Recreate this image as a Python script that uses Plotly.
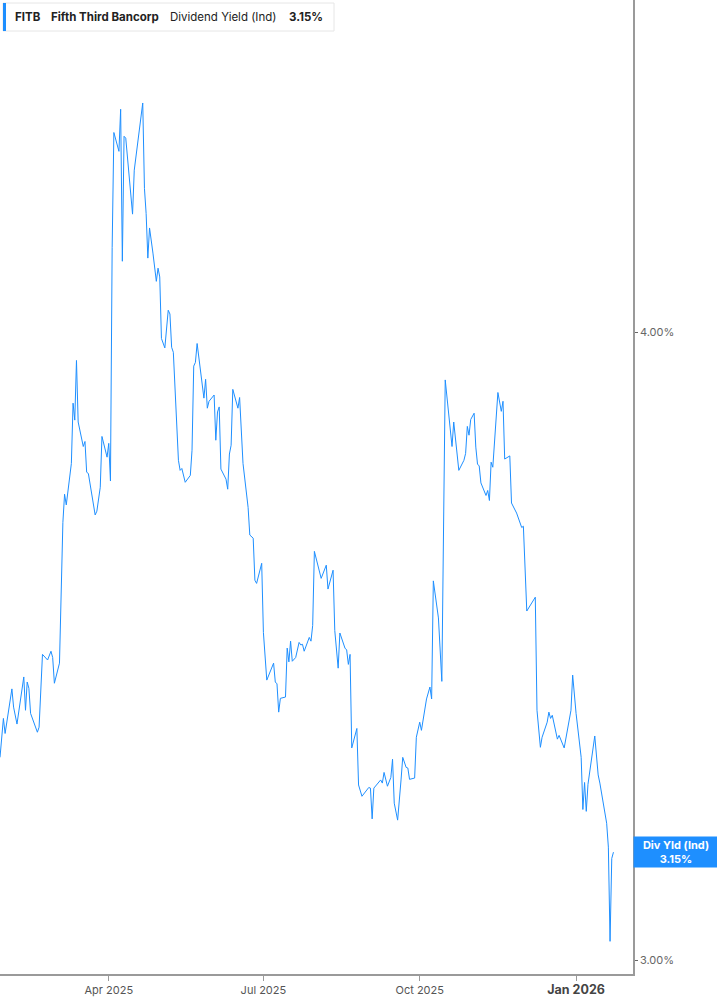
import plotly.graph_objects as go

ticker = "FITB"
company = "Fifth Third Bancorp"
metric = "Dividend Yield (Ind)"
current_label = "3.15%"
side_label = "Div Yld (Ind)"

dates = [
    "2025-01-27","2025-01-29","2025-01-30","2025-02-03","2025-02-04","2025-02-06","2025-02-10","2025-02-11",
    "2025-02-12","2025-02-13","2025-02-14","2025-02-18","2025-02-19","2025-02-21","2025-02-24","2025-02-26",
    "2025-02-27","2025-02-28","2025-03-03","2025-03-04","2025-03-05","2025-03-06","2025-03-07","2025-03-10",
    "2025-03-11","2025-03-12","2025-03-13","2025-03-14","2025-03-17","2025-03-18","2025-03-19","2025-03-20",
    "2025-03-24","2025-03-25","2025-03-27","2025-03-28","2025-03-31","2025-04-01","2025-04-02","2025-04-03",
    "2025-04-04","2025-04-07","2025-04-08","2025-04-09","2025-04-10","2025-04-11","2025-04-15","2025-04-16",
    "2025-04-21","2025-04-22","2025-04-23","2025-04-24","2025-04-25","2025-04-27","2025-04-29","2025-04-30",
    "2025-05-01","2025-05-02","2025-05-04","2025-05-06","2025-05-07","2025-05-08","2025-05-09","2025-05-12",
    "2025-05-13","2025-05-14","2025-05-16","2025-05-19","2025-05-20","2025-05-21","2025-05-22","2025-05-23",
    "2025-05-27","2025-05-28","2025-05-29","2025-05-30","2025-06-02","2025-06-03","2025-06-04","2025-06-05",
    "2025-06-06","2025-06-09","2025-06-10","2025-06-11","2025-06-12","2025-06-13","2025-06-16","2025-06-17",
    "2025-06-18","2025-06-19","2025-06-22","2025-06-23","2025-06-25","2025-06-26","2025-06-27","2025-06-30",
    "2025-07-01","2025-07-03","2025-07-07","2025-07-08","2025-07-09","2025-07-10","2025-07-11","2025-07-14",
    "2025-07-15","2025-07-16","2025-07-17","2025-07-18","2025-07-20","2025-07-22","2025-07-23","2025-07-24",
    "2025-07-25","2025-07-28","2025-07-29","2025-07-30","2025-07-31","2025-08-04","2025-08-07","2025-08-08",
    "2025-08-11","2025-08-12","2025-08-14","2025-08-15","2025-08-18","2025-08-19","2025-08-20","2025-08-21",
    "2025-08-22","2025-08-25","2025-08-26","2025-08-28","2025-09-01","2025-09-02","2025-09-03","2025-09-04",
    "2025-09-08","2025-09-09","2025-09-10","2025-09-12","2025-09-14","2025-09-15","2025-09-16","2025-09-18",
    "2025-09-20","2025-09-21","2025-09-23","2025-09-24","2025-09-25","2025-09-28","2025-09-29","2025-10-01",
    "2025-10-02","2025-10-05","2025-10-07","2025-10-08","2025-10-09","2025-10-12","2025-10-14","2025-10-16",
    "2025-10-20","2025-10-21","2025-10-24","2025-10-27","2025-10-28","2025-10-29","2025-10-30","2025-10-31",
    "2025-11-02","2025-11-03","2025-11-04","2025-11-05","2025-11-06","2025-11-09","2025-11-10","2025-11-11",
    "2025-11-12","2025-11-13","2025-11-16","2025-11-18","2025-11-19","2025-11-20","2025-11-23","2025-11-24",
    "2025-11-27","2025-11-30","2025-12-01","2025-12-03","2025-12-08","2025-12-09","2025-12-11","2025-12-12",
    "2025-12-15","2025-12-16","2025-12-17","2025-12-18","2025-12-21","2025-12-22","2025-12-25","2025-12-28",
    "2025-12-29","2025-12-30","2026-01-01","2026-01-04","2026-01-05","2026-01-06","2026-01-07","2026-01-08",
    "2026-01-12","2026-01-14","2026-01-15","2026-01-19","2026-01-20","2026-01-21","2026-01-22","2026-01-23",
]

yields = [
    3.323,3.385,3.361,3.432,3.403,3.376,3.451,3.398,
    3.443,3.433,3.393,3.363,3.371,3.487,3.478,3.492,
    3.482,3.441,3.473,3.589,3.697,3.742,3.725,3.791,
    3.887,3.860,3.955,3.857,3.818,3.826,3.777,3.775,
    3.709,3.715,3.753,3.834,3.801,3.823,3.763,4.135,
    4.318,4.288,4.355,4.113,4.312,4.309,4.188,4.258,
    4.365,4.229,4.189,4.118,4.166,4.126,4.081,4.102,
    4.088,3.990,3.975,4.035,4.029,3.976,3.968,3.796,
    3.780,3.783,3.761,3.772,3.812,3.946,3.952,3.982,
    3.895,3.925,3.879,3.890,3.900,3.828,3.873,3.881,
    3.782,3.766,3.750,3.806,3.820,3.909,3.879,3.896,
    3.839,3.791,3.721,3.677,3.672,3.605,3.600,3.632,
    3.522,3.446,3.473,3.443,3.440,3.395,3.417,3.419,
    3.497,3.475,3.508,3.476,3.482,3.506,3.502,3.503,
    3.492,3.514,3.508,3.533,3.651,3.608,3.629,3.591,
    3.621,3.525,3.465,3.521,3.497,3.494,3.471,3.487,
    3.338,3.369,3.279,3.261,3.275,3.274,3.225,3.274,
    3.287,3.282,3.299,3.277,3.291,3.320,3.250,3.223,
    3.287,3.323,3.307,3.306,3.288,3.290,3.355,3.379,
    3.366,3.416,3.435,3.416,3.604,3.545,3.444,3.924,
    3.818,3.857,3.780,3.796,3.807,3.850,3.836,3.861,
    3.871,3.817,3.790,3.787,3.760,3.740,3.748,3.732,
    3.793,3.785,3.904,3.874,3.890,3.798,3.803,3.728,
    3.712,3.689,3.691,3.556,3.578,3.398,3.339,3.355,
    3.379,3.395,3.385,3.390,3.352,3.358,3.338,3.381,
    3.398,3.454,3.393,3.323,3.240,3.283,3.237,3.280,
    3.357,3.295,3.282,3.218,3.180,3.030,3.162,3.172,
]

x_tick_vals = ["2025-04-01", "2025-07-01", "2025-10-01", "2026-01-01"]
x_tick_text = ["Apr 2025", "Jul 2025", "Oct 2025",
               "<span style='font-size:12.5px;color:#444'><b>Jan 2026</b></span>"]
y_tick_vals = [3.0, 4.0]
y_tick_text = ["3.00%", "4.00%"]

LINE = "#1e8fff"
AXIS = "#9a9a9a"
W, H = 717, 1005
ML, MR, MT, MB = 0, 84, 0, 31
PW, PH = W - ML - MR, H - MT - MB

def px(x):
    return (x - ML) / PW

def py(y):
    return 1 - (y - MT) / PH

fig = go.Figure()
fig.add_trace(go.Scatter(x=dates, y=yields, mode="lines",
                         line=dict(color=LINE, width=1), hoverinfo="skip"))

fig.update_layout(
    width=W, height=H,
    margin=dict(l=ML, r=MR, t=MT, b=MB),
    paper_bgcolor="white", plot_bgcolor="white",
    showlegend=False,
    font=dict(family="Inter, Roboto, sans-serif", color="#555"),
    xaxis=dict(type="date", range=["2025-01-27", "2026-02-03 12:00"],
               tickvals=x_tick_vals, ticktext=x_tick_text,
               ticks="outside", ticklen=5, tickcolor=AXIS, tickwidth=1,
               showline=True, linecolor=AXIS, linewidth=1.5,
               showgrid=False, zeroline=False,
               tickfont=dict(size=11, color="#555")),
    yaxis=dict(side="right", range=[2.978, 4.529],
               tickvals=y_tick_vals, ticktext=y_tick_text,
               ticks="outside", ticklen=3, tickcolor="#666",
               showline=True, linecolor=AXIS, linewidth=1.5,
               showgrid=False, zeroline=False,
               tickfont=dict(size=11, color="#666")),
)

# header box
fig.add_shape(type="rect", xref="paper", yref="paper",
              x0=px(3), x1=px(334), y0=py(31), y1=py(3),
              line=dict(color="#e6e6e6", width=1), fillcolor="white", layer="above")
fig.add_shape(type="rect", xref="paper", yref="paper",
              x0=px(3), x1=px(6), y0=py(31), y1=py(3),
              line=dict(width=0), fillcolor=LINE, layer="above")

head_parts = [
    (13, f"<b>{ticker}</b>"),
    (49, f"<b>{company}</b>"),
    (168, metric),
    (287, f"<b>{current_label}</b>"),
]
for xpos, txt in head_parts:
    fig.add_annotation(xref="paper", yref="paper", x=px(xpos), y=py(17),
                       xanchor="left", yanchor="middle", text=txt, showarrow=False,
                       font=dict(size=11.5, color="#222", family="Inter, sans-serif"))

# right value label
fig.add_annotation(xref="paper", yref="y", x=px(633), y=yields[-1],
                   xanchor="left", yanchor="middle",
                   text=f"<b>{side_label}<br>{current_label}</b>", showarrow=False,
                   bgcolor=LINE, width=80, height=26, borderpad=2,
                   font=dict(size=11, color="white", family="Inter, sans-serif"))

fig.write_html("out.html", config={"displayModeBar": False},
               post_script="document.body.style.margin='0';document.body.style.overflow='hidden';")
